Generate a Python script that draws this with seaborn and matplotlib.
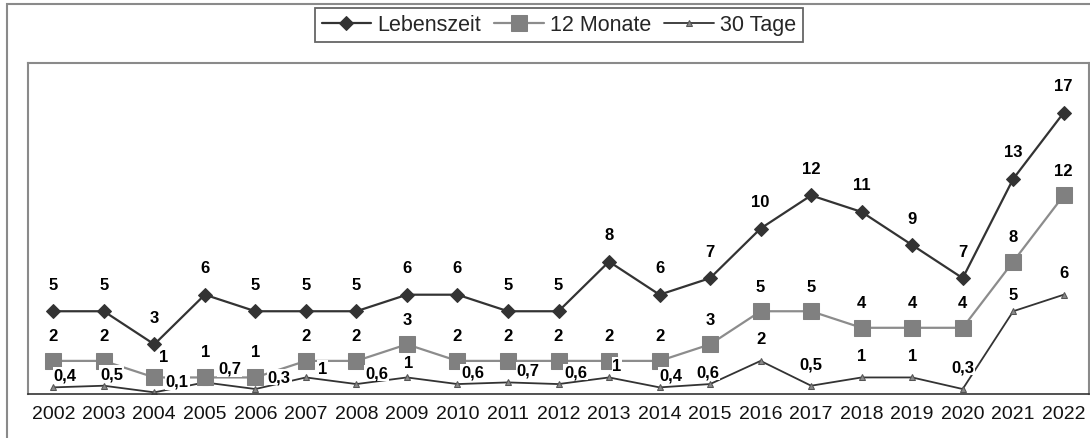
import matplotlib.pyplot as plt
import numpy as np
import pandas as pd
import seaborn as sns
from matplotlib.patches import Rectangle

# values (German number format in labels)
years = ["2002", "2003", "2004", "2005", "2006", "2007", "2008", "2009", "2010", "2011", "2012",
         "2013", "2014", "2015", "2016", "2017", "2018", "2019", "2020", "2021", "2022"]
lebenszeit = [5, 5, 3, 6, 5, 5, 5, 6, 6, 5, 5, 8, 6, 7, 10, 12, 11, 9, 7, 13, 17]
monate_12 = [2, 2, 1, 1, 1, 2, 2, 3, 2, 2, 2, 2, 2, 3, 5, 5, 4, 4, 4, 8, 12]
tage_30 = [0.4, 0.5, 0.1, 0.7, 0.3, 1, 0.6, 1, 0.6, 0.7, 0.6, 1, 0.4, 0.6, 2, 0.5, 1, 1, 0.3, 5, 6]

# label nudges (pixels), as placed in the original
dx_30 = [12, 8, 23, 25, 24, 17, 20, 2, 15, 20, 17, 8, 11, -2, 0, 0, 0, 0, 0, 0, 0]
dy_30 = [12, 12, 11, 14, 12, 9, 11, 15, 12, 12, 12, 12, 12, 12, 22, 22, 22, 22, 22, 17, 22]
dx_12 = [0, 0, 9, 1, 0, 0, 0, 0, 0, 0, 0, 0, 0, 0, 0, 0, 0, 0, 0, 0, 0]
dy_12 = [25, 25, 21, 26, 26, 25, 25, 25, 25, 25, 25, 25, 25, 25, 25, 25, 25, 25, 25, 25, 25]

sns.set_style("white")
plt.rcParams["font.family"] = ["Liberation Sans", "DejaVu Sans"]

df = pd.DataFrame({"year": years, "Lebenszeit": lebenszeit,
                   "12 Monate": monate_12, "30 Tage": tage_30})

W, H = 1090, 439
fig = plt.figure(figsize=(W / 100, H / 100), dpi=100)
ax = fig.add_axes([28 / W, 1 - 395 / H, (1089 - 28) / W, (395 - 64) / H])

sns.lineplot(data=df, x="year", y="30 Tage", ax=ax, color="#333333", linewidth=1.3,
             marker="^", markersize=4.5, markerfacecolor="#888888", markeredgecolor="#555555",
             label="30 Tage", zorder=2)
sns.lineplot(data=df, x="year", y="12 Monate", ax=ax, color="#8c8c8c", linewidth=1.6,
             marker="s", markersize=11, markerfacecolor="#808080", markeredgecolor="#808080",
             label="12 Monate", zorder=2)
sns.lineplot(data=df, x="year", y="Lebenszeit", ax=ax, color="#333333", linewidth=1.6,
             marker="D", markersize=7.5, markerfacecolor="#333333", markeredgecolor="#333333",
             label="Lebenszeit", zorder=6)


def fmt(v):
    return f"{v:g}".replace(".", ",")


px = 0.72  # pixels -> points at 100 dpi
lab = dict(textcoords="offset points", ha="center", va="center", fontsize=12,
           fontweight="bold", color="black", zorder=5,
           bbox=dict(boxstyle="square,pad=0.05", fc="white", ec="none"))
for i in range(len(years)):
    ax.annotate(fmt(lebenszeit[i]), (i, lebenszeit[i]), xytext=(0, 27 * px), **lab)
    ax.annotate(fmt(monate_12[i]), (i, monate_12[i]), xytext=(dx_12[i] * px, dy_12[i] * px), **lab)
    ax.annotate(fmt(tage_30[i]), (i, tage_30[i]), xytext=(dx_30[i] * px, dy_30[i] * px), **lab)

ax.set_xlim(-0.5, len(years) - 0.5)
ax.set_ylim(0, 20)
ax.set_yticks([])
ax.set_xlabel("")
ax.set_ylabel("")
ax.set_xticks(np.arange(-0.5, len(years)), minor=True)
ax.tick_params(axis="x", which="major", length=0, pad=8, labelsize=14, labelcolor="#111111")
ax.tick_params(axis="x", which="minor", length=5, width=1, color="#333333", direction="out")
for side in ["left", "top", "right"]:
    ax.spines[side].set_color("#8a8a8a")
    ax.spines[side].set_linewidth(1.5)
ax.spines["bottom"].set_color("#333333")
ax.spines["bottom"].set_linewidth(1.2)

handles, labels = ax.get_legend_handles_labels()
order = [labels.index(n) for n in ["Lebenszeit", "12 Monate", "30 Tage"]]
ax.get_legend().remove()
leg = fig.legend([handles[k] for k in order], [labels[k] for k in order],
                 loc="upper center", bbox_to_anchor=(559 / W, 1 - 9 / H), ncol=3,
                 fontsize=15.5, frameon=True, fancybox=False, framealpha=1,
                 edgecolor="#666666", handlelength=2.3, handletextpad=0.3,
                 columnspacing=0.6, borderpad=0.3, borderaxespad=0)
leg.get_frame().set_linewidth(1.3)

# outer chart frame
fig.add_artist(Rectangle((7 / W, -0.1), 1.2, 1.1 - 5 / H, transform=fig.transFigure,
                         fill=False, edgecolor="#8a8a8a", linewidth=1.5))

fig.savefig("out.png", dpi=100)
